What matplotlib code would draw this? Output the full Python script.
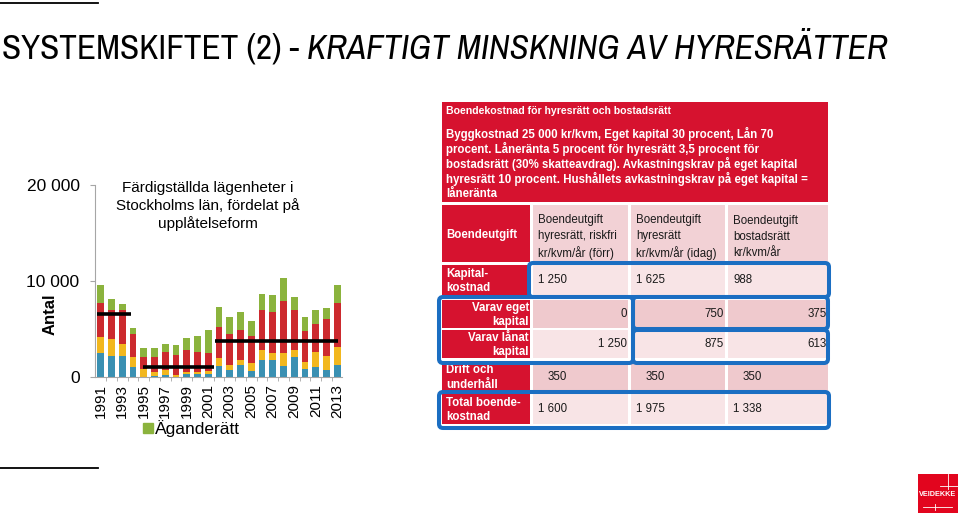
import matplotlib
matplotlib.use("Agg")
import matplotlib.pyplot as plt
from matplotlib import font_manager
from matplotlib.patches import Rectangle, FancyBboxPatch

W, H = 960, 515

# --- data ---
years = list(range(1991, 2014))
serie_blue = [2550, 2250, 2200, 1100, 50, 150, 200, 50, 350, 350, 300, 1200, 750,
              1300, 700, 1850, 1800, 1200, 2100, 850, 1050, 750, 1250]
serie_yellow = [1650, 1700, 1300, 1000, 800, 450, 550, 200, 250, 250, 350, 850, 550,
                500, 800, 1000, 750, 1350, 750, 750, 1550, 1450, 1950]
serie_red = [3500, 3050, 3550, 2450, 1300, 1550, 1900, 2050, 2250, 2050, 1900, 3150, 3250,
             3100, 2800, 4200, 4250, 5350, 4200, 3200, 2950, 3850, 4550]
serie_green = [1900, 1150, 550, 550, 850, 900, 850, 1100, 1200, 1700, 2350, 2150, 1750,
               1900, 1600, 1650, 1800, 2400, 1350, 1500, 1450, 1200, 1850]
legend_label = "Äganderätt"

# period averages (start, end, level)
avg_start = [1990.7, 1994.96, 2001.63]
avg_end = [1993.8, 2001.54, 2013.1]
avg_value = [6550, 1100, 3750]

title_plain = "SYSTEMSKIFTET (2) - "
title_italic = "KRAFTIGT MINSKNING AV HYRESRÄTTER"
chart_title = "Färdigställda lägenheter i\nStockholms län, fördelat på\nupplåtelseform"

box_title = "Boendekostnad för hyresrätt och bostadsrätt"
box_lines = [
    "Byggkostnad 25 000 kr/kvm, Eget kapital 30 procent, Lån 70",
    "procent. Låneränta 5 procent för hyresrätt 3,5 procent för",
    "bostadsrätt (30% skatteavdrag). Avkastningskrav på eget kapital",
    "hyresrätt 10 procent. Hushållets avkastningskrav på eget kapital =",
    "låneränta",
]
corner_label = "Boendeutgift"
col_headers = ["Boendeutgift\nhyresrätt, riskfri\nkr/kvm/år (förr)",
               "Boendeutgift\nhyresrätt\nkr/kvm/år (idag)",
               "Boendeutgift\nbostadsrätt\nkr/kvm/år"]
row_labels = ["Kapital-\nkostnad", "Varav eget\nkapital", "Varav lånat\nkapital",
              "Drift och\nunderhåll", "Total boende-\nkostnad"]
values = [["1 250", "1 625", "988"],
          ["0", "750", "375"],
          ["1 250", "875", "613"],
          ["350", "350", "350"],
          ["1 600", "1 975", "1 338"]]

# --- style ---
fonts = font_manager.fontManager.ttflist
italic_ok = {f.name for f in fonts if f.style in ('italic', 'oblique')}
base_font = "Liberation Sans"
title_font = base_font
for cand in ["Liberation Sans Narrow", "Arial Narrow", "Archivo Narrow",
             "Roboto Condensed", "PT Sans Narrow"]:
    if cand in italic_ok:
        title_font = cand
        break
plt.rcParams['font.family'] = [base_font, 'DejaVu Sans']

c_blue, c_yellow, c_red, c_green = '#3a90b2', '#f2b71e', '#cc2a2e', '#8bb33d'
red = '#d6122f'
pink_light = '#f8e4e6'
pink_dark = '#efc9cd'
pink_head = '#f2d1d5'
frame_blue = '#1b6ec2'

fig = plt.figure(figsize=(W / 100, H / 100), dpi=100)
fig.patch.set_facecolor('white')

# overlay in pixel coords (y down)
ov = fig.add_axes([0, 0, 1, 1])
ov.set_xlim(0, W)
ov.set_ylim(H, 0)
ov.axis('off')

# short rules top / bottom left
ov.plot([0, 98], [3, 3], color='black', lw=1.3)
ov.plot([0, 98], [468, 468], color='black', lw=1.3)

# --- title, fitted to slide width ---
fs = 24
for _ in range(3):
    for t in list(fig.texts):
        t.remove()
    t1 = fig.text(2 / W, 1 - 49 / H, title_plain, fontsize=fs, family=title_font, va='center')
    fig.canvas.draw()
    r = fig.canvas.get_renderer()
    bb = t1.get_window_extent(r)
    t2 = fig.text(bb.x1 / W, 1 - 49 / H, title_italic, fontsize=fs, family=title_font,
                  style='italic', va='center')
    fig.canvas.draw()
    bb2 = t2.get_window_extent(r)
    fs = fs * (886 / (bb2.x1 - 2))

# --- bar chart ---
ax = fig.add_axes([95 / W, 1 - 377.3 / H, (342 - 95) / W, (377.3 - 185.3) / H])
ax.patch.set_alpha(0)
bw = 0.62
bottom = [0] * len(years)
for serie, col in [(serie_blue, c_blue), (serie_yellow, c_yellow),
                   (serie_red, c_red), (serie_green, c_green)]:
    ax.bar(years, serie, bw, bottom=bottom, color=col, zorder=2)
    bottom = [b + s for b, s in zip(bottom, serie)]
for s, e, v in zip(avg_start, avg_end, avg_value):
    ax.plot([s, e], [v, v], color='black', lw=2.6, solid_capstyle='butt', zorder=3)

ax.set_xlim(1990.47, 2013.44)
ax.set_ylim(0, 20000)
ax.set_yticks([0, 10000, 20000])
ax.set_yticklabels(['0', '10 000', '20 000'], fontsize=12.5)
ax.set_xticks(years[::2])
ax.set_xticklabels([str(y) for y in years[::2]], rotation=90, fontsize=11)
ax.set_xticks([y + 0.5 for y in years[:-1]], minor=True)
for sp in ['top', 'right']:
    ax.spines[sp].set_visible(False)
for sp in ['left', 'bottom']:
    ax.spines[sp].set_color('#a6a6a6')
ax.tick_params(axis='y', length=3.6, pad=7.5, color='#a6a6a6')
ax.tick_params(axis='x', which='major', length=0, pad=5)
ax.tick_params(axis='x', which='minor', length=3, color='#a6a6a6')

ov.text(50, 314, "Antal", rotation=90, fontsize=12, fontweight='bold', ha='center', va='center')
ov.text(208, 206, chart_title, fontsize=11, ha='center', va='center', linespacing=1.22)
ov.add_patch(Rectangle((143, 423), 9.5, 9.5, color=c_green))
ov.text(155, 429, legend_label, fontsize=12.5, va='center')

# --- table ---
x_cols = [442, 533, 631, 728]
x_ends = [530, 628, 725, 828]
ov.add_patch(Rectangle((442, 102), 828 - 442, 202 - 102, color=red, lw=0))
ov.text(446, 110.5, box_title, color='white', fontsize=7.6, fontweight='bold', va='center')
for i, line in enumerate(box_lines):
    ov.text(446, 134 + 15 * i, line, color='white', fontsize=8.3, fontweight='bold', va='center')

# header row
ov.add_patch(Rectangle((442, 205), 530 - 442, 262 - 205, color=red, lw=0))
ov.text(446, 235, corner_label, color='white', fontsize=8.3, fontweight='bold', va='center')
for j, hdr in enumerate(col_headers):
    ov.add_patch(Rectangle((x_cols[j + 1], 205), x_ends[j + 1] - x_cols[j + 1], 57,
                           color=pink_head, lw=0))
    ov.text(x_cols[j + 1] + 5, 237, hdr, fontsize=8.3, va='center', linespacing=1.45,
            color='#1a1a1a')

row_top = [265, 300, 330, 362, 394]
row_bot = [295, 328, 358, 391, 424]
row_fill = [pink_light, pink_dark, pink_light, pink_dark, pink_light]
row_align = ['left', 'right', 'right', 'indent', 'left']
label_right = [False, True, True, False, False]
for i in range(len(row_labels)):
    y0, y1 = row_top[i], row_bot[i]
    ym = (y0 + y1) / 2
    ov.add_patch(Rectangle((442, y0), 530 - 442, y1 - y0, color=red, lw=0))
    if label_right[i]:
        ov.text(529, ym + 1, row_labels[i], color='white', fontsize=8.3, fontweight='bold',
                ha='right', va='center', linespacing=1.3)
    else:
        ov.text(446, ym + 1, row_labels[i], color='white', fontsize=8.3, fontweight='bold',
                va='center', linespacing=1.3)
    for j in range(3):
        xa, xb = x_cols[j + 1], x_ends[j + 1]
        ov.add_patch(Rectangle((xa, y0), xb - xa, y1 - y0, color=row_fill[i], lw=0))
        if row_align[i] == 'right':
            ov.text(xb - 1, ym, values[i][j], fontsize=8.3, ha='right', va='center', color='#1a1a1a')
        elif row_align[i] == 'indent':
            ov.text(xa + 15, ym, values[i][j], fontsize=8.3, va='center', color='#1a1a1a')
        else:
            ov.text(xa + 5, ym, values[i][j], fontsize=8.3, va='center', color='#1a1a1a')

# blue highlight frames
frames = [(529, 263, 829, 297), (439, 297, 633, 363), (633, 297, 828, 329),
          (633, 330, 828, 363), (439, 392, 829, 428)]
for x0, y0, x1, y1 in frames:
    ov.add_patch(FancyBboxPatch((x0, y0), x1 - x0, y1 - y0,
                                boxstyle="round,pad=0,rounding_size=4",
                                fill=False, ec=frame_blue, lw=2.9, zorder=5))

# logo
ov.add_patch(Rectangle((918, 474), 40, 39, color='#e2051e', lw=0))
ov.plot([948, 948], [474, 489], color='white', lw=0.6)
ov.plot([940, 958], [486, 486], color='white', lw=0.6)
ov.plot([923, 952], [507, 507], color='white', lw=0.6)
ov.plot([935, 935], [504, 510], color='white', lw=0.6)
ov.text(938, 495, "VEIDEKKE", color='white', fontsize=5.2, fontweight='bold',
        ha='center', va='center')

fig.savefig('out.png', dpi=100)
